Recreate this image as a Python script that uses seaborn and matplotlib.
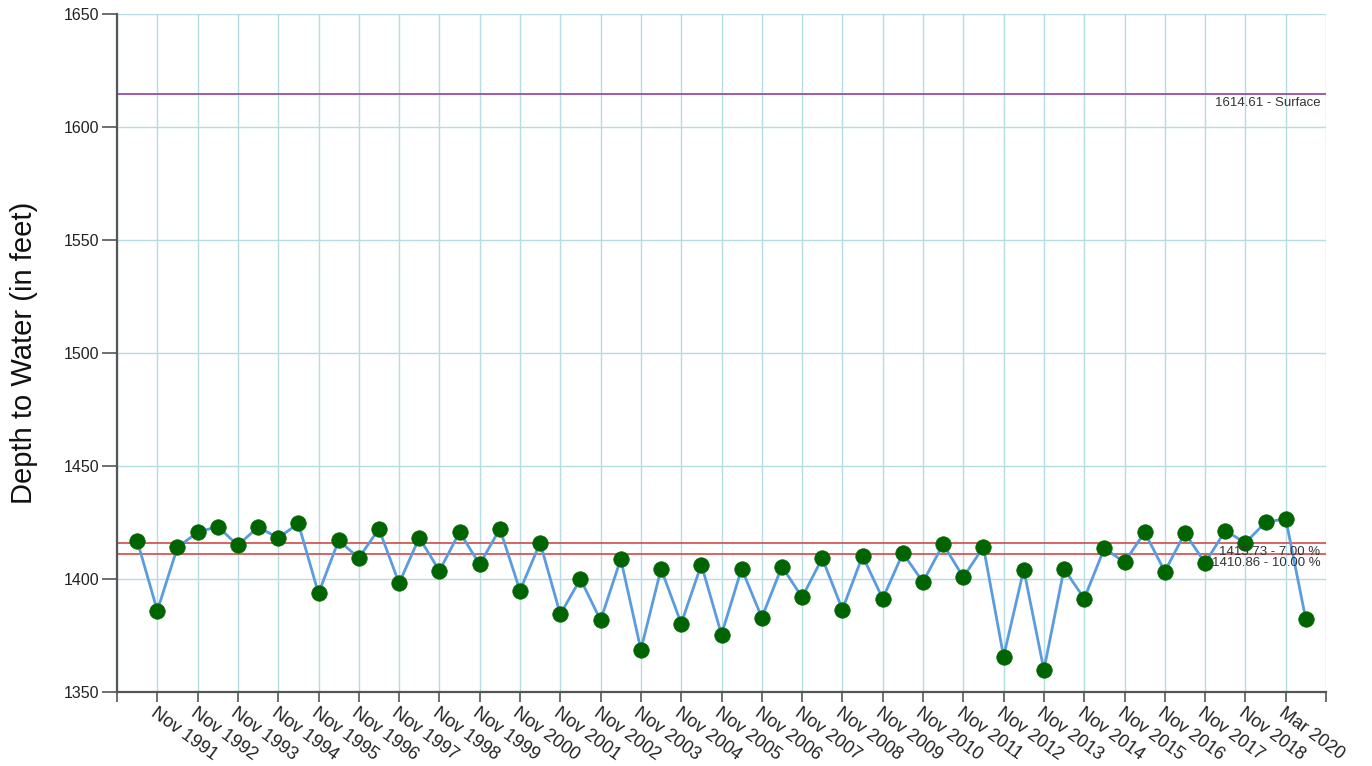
import matplotlib
matplotlib.use("Agg")
import matplotlib.pyplot as plt
import seaborn as sns
import pandas as pd

# ---- data ----
depth = [1417.0, 1386.0, 1414.0, 1420.7, 1423.2, 1414.9, 1423.0, 1418.2, 1424.6, 1393.6,
         1417.1, 1409.3, 1422.2, 1398.1, 1418.3, 1403.6, 1420.7, 1406.5, 1422.2, 1394.9,
         1416.0, 1384.4, 1400.0, 1381.7, 1408.9, 1368.7, 1404.5, 1380.3, 1406.4, 1375.4,
         1404.6, 1382.9, 1405.5, 1391.9, 1409.2, 1386.5, 1410.2, 1391.3, 1411.4, 1398.7,
         1415.4, 1400.8, 1414.2, 1365.7, 1404.2, 1359.8, 1404.5, 1391.3, 1413.6, 1407.4,
         1420.7, 1403.3, 1420.4, 1407.1, 1421.4, 1416.0, 1425.1, 1426.7, 1382.1]
half_year = list(range(1, len(depth) + 1))
tick_pos = list(range(0, 61, 2))
tick_labels = [""] + [f"Nov {y}" for y in range(1991, 2019)] + ["Mar 2020", ""]
ref_values = [1614.61, 1415.73, 1410.86]
ref_labels = ["1614.61 - Surface", "1415.73 - 7.00 %", "1410.86 - 10.00 %"]
ref_colors = ["#8a3fa8", "#d04a4a", "#d04a4a"]

df = pd.DataFrame({"t": half_year, "depth": depth})

sns.set_style("white")
plt.rcParams["font.family"] = ["Liberation Sans", "DejaVu Sans"]

fig = plt.figure(figsize=(13.72, 7.66), dpi=100)
ax = fig.add_axes([117 / 1372, 1 - 692 / 766, (1326 - 117) / 1372, (692 - 14) / 766])

ax.set_xlim(0, 60)
ax.set_ylim(1350, 1650)
ax.set_xticks(tick_pos)
ax.set_xticklabels(tick_labels, rotation=-36, ha="left", va="top",
                   rotation_mode="anchor", fontsize=13, color="#222222")
ax.set_yticks([1350, 1400, 1450, 1500, 1550, 1600, 1650])
ax.tick_params(axis="y", labelsize=11.5, labelcolor="#222222", length=11, width=1.2,
               color="#555555", left=True, pad=2)
ax.tick_params(axis="x", length=7, width=1.2, color="#555555", bottom=True, pad=2)
ax.grid(True, color="#b5dbe3", linewidth=1)
ax.set_axisbelow(True)

for side in ["top", "right"]:
    ax.spines[side].set_visible(False)
for side in ["left", "bottom"]:
    ax.spines[side].set_color("#555555")
    ax.spines[side].set_linewidth(1.6)

for v, lab, c in zip(ref_values, ref_labels, ref_colors):
    ax.axhline(v, color=c, linewidth=1.2, zorder=2)
    ax.annotate(lab, xy=(1, v), xycoords=("axes fraction", "data"),
                xytext=(-4, -2), textcoords="offset points",
                ha="right", va="top", fontsize=9.5, color="#333333", zorder=5)

sns.lineplot(data=df, x="t", y="depth", ax=ax, color="#5b9be0", linewidth=2, zorder=3)
sns.scatterplot(data=df, x="t", y="depth", ax=ax, color="#006400", s=125,
                edgecolor="#0b6b0b", linewidth=0.5, zorder=4)

ax.set_xlabel("")
ax.set_ylabel("Depth to Water (in feet)", fontsize=21, color="#111111", labelpad=18)

fig.savefig("out.png", dpi=100)
